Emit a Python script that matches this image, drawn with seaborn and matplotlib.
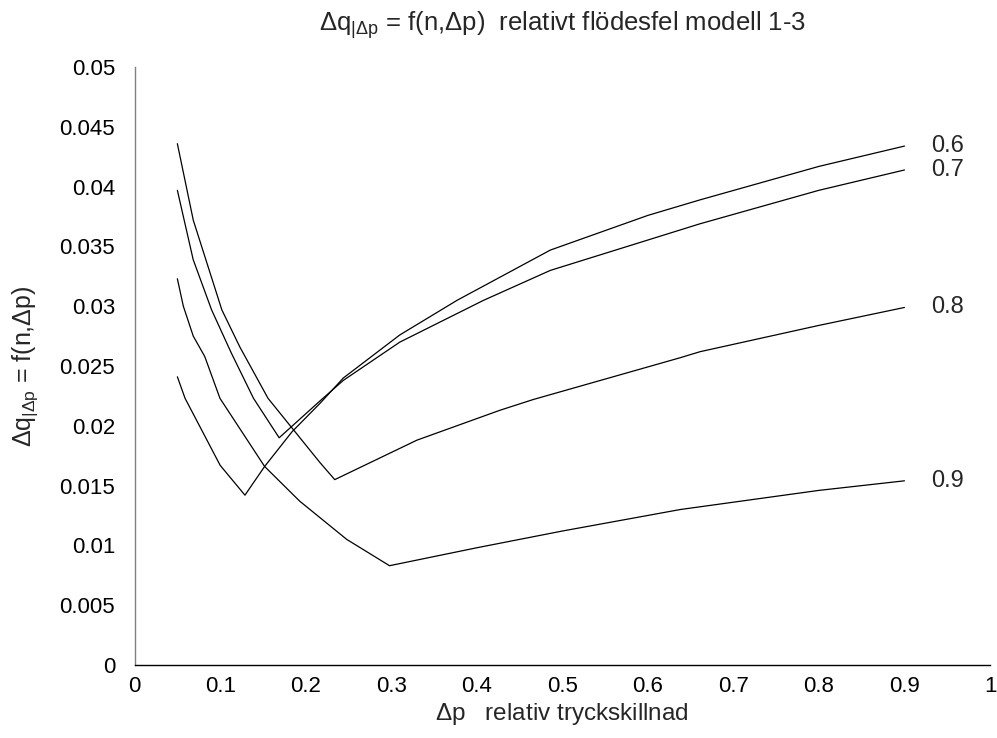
"""Relativt flödesfel som funktion av relativ tryckskillnad, modell 1-3."""
import matplotlib

matplotlib.use("Agg")
import matplotlib.pyplot as plt
import pandas as pd
import seaborn as sns
from matplotlib.ticker import FuncFormatter, MultipleLocator

# Avlästa punkter per kurva (n-värde)
n06_x = [0.05, 0.059, 0.10, 0.129, 0.152, 0.184, 0.217, 0.244, 0.31, 0.377, 0.486, 0.6, 0.661, 0.8, 0.9]
n06_y = [0.0241, 0.0223, 0.0167, 0.0142, 0.0166, 0.0195, 0.0219, 0.0240, 0.0276, 0.0305, 0.0347, 0.0376, 0.0389, 0.0417, 0.0434]

n07_x = [0.05, 0.0685, 0.09, 0.113, 0.139, 0.169, 0.217, 0.244, 0.31, 0.408, 0.486, 0.661, 0.8, 0.9]
n07_y = [0.0397, 0.0339, 0.0297, 0.0261, 0.0223, 0.0190, 0.0221, 0.0238, 0.0270, 0.0305, 0.0330, 0.0369, 0.0397, 0.0414]

n08_x = [0.05, 0.0686, 0.102, 0.123, 0.156, 0.217, 0.234, 0.33, 0.427, 0.466, 0.638, 0.661, 0.8, 0.9]
n08_y = [0.0436, 0.0372, 0.0297, 0.0266, 0.0223, 0.0169, 0.0155, 0.0188, 0.0213, 0.0222, 0.0257, 0.0262, 0.0284, 0.0299]

n09_x = [0.05, 0.057, 0.0686, 0.082, 0.0998, 0.152, 0.193, 0.248, 0.298, 0.4, 0.5, 0.638, 0.8, 0.9]
n09_y = [0.0323, 0.0300, 0.0275, 0.0258, 0.0223, 0.0166, 0.0137, 0.0105, 0.0083, 0.0098, 0.0112, 0.0130, 0.0146, 0.0154]

kurvor = {"0.6": (n06_x, n06_y), "0.7": (n07_x, n07_y),
          "0.8": (n08_x, n08_y), "0.9": (n09_x, n09_y)}

df = pd.concat(
    [pd.DataFrame({"dp": x, "dq": y, "n": n}) for n, (x, y) in kurvor.items()],
    ignore_index=True,
)

sns.set_style("white")
plt.rcParams["font.family"] = ["Liberation Sans", "DejaVu Sans"]
plt.rcParams["mathtext.fontset"] = "custom"
plt.rcParams["mathtext.rm"] = "Liberation Sans"
plt.rcParams["mathtext.it"] = "Liberation Sans"
plt.rcParams["mathtext.bf"] = "Liberation Sans"

fig = plt.figure(figsize=(9.97, 7.38), dpi=100)
ax = fig.add_axes([0.135, 0.099, 0.858, 0.81])

sns.lineplot(
    data=df, x="dp", y="dq", hue="n", units="n", estimator=None,
    palette=["black"] * 4, linewidth=0.9, legend=False, sort=False, ax=ax,
)

for n, (x, y) in kurvor.items():
    ax.text(0.931, y[-1], n, fontsize=17, va="center", ha="left")

ax.set_xlim(0, 1)
ax.set_ylim(0, 0.05)
ax.xaxis.set_major_locator(MultipleLocator(0.1))
ax.yaxis.set_major_locator(MultipleLocator(0.005))
fmt = FuncFormatter(lambda v, _: f"{v:.3f}".rstrip("0").rstrip(".") if v else "0")
ax.xaxis.set_major_formatter(fmt)
ax.yaxis.set_major_formatter(fmt)
ax.tick_params(direction="in", length=6, width=0.8, labelsize=16, colors="black")
ax.tick_params(axis="y", pad=14)
ax.tick_params(axis="x", pad=8)

sns.despine(ax=ax)
ax.spines["left"].set_color("#808080")
ax.spines["bottom"].set_color("black")
for s in ("left", "bottom"):
    ax.spines[s].set_linewidth(1.0)

ax.set_title(r"$\Delta q_{|\Delta p}$ = f(n,$\Delta$p)  relativt flödesfel modell 1-3",
             fontsize=18.5, pad=26)
ax.set_xlabel(r"$\Delta$p   relativ tryckskillnad", fontsize=17.5, labelpad=3)
ax.set_ylabel(r"$\Delta q_{|\Delta p}$ = f(n,$\Delta$p)", fontsize=18, labelpad=14)

fig.savefig("out.png", dpi=100)
